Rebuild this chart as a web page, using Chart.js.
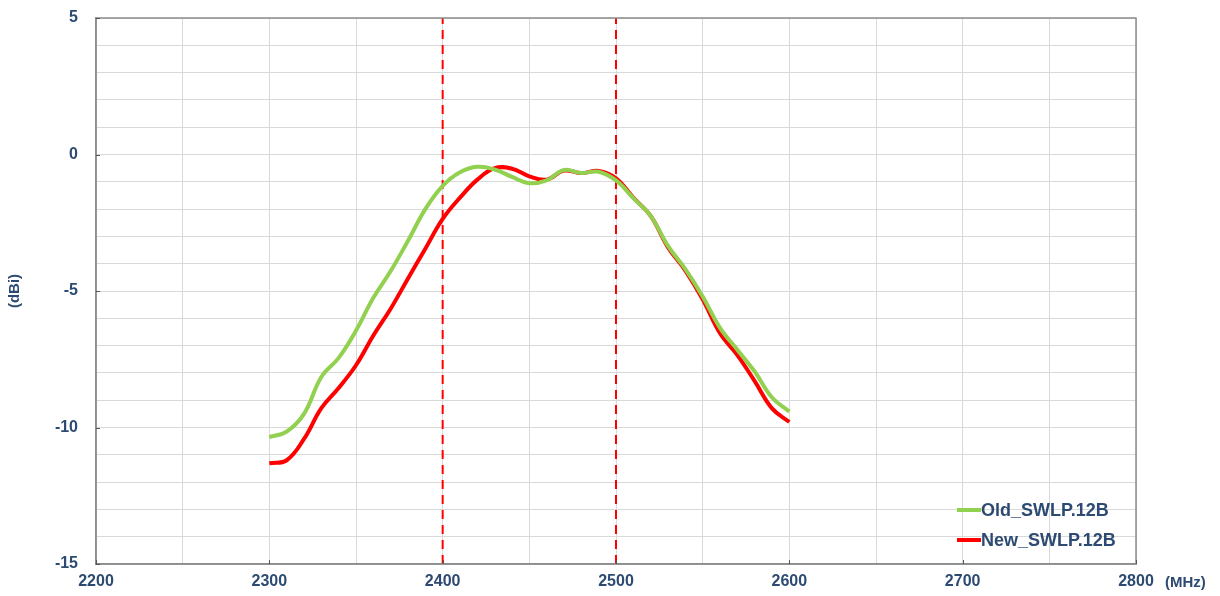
<!DOCTYPE html>
<html>
<head>
<meta charset="utf-8">
<script src="https://cdn.jsdelivr.net/npm/chart.js@4.4.1/dist/chart.umd.min.js"></script>
<style>
  html, body { margin: 0; padding: 0; background: #fff; }
  #wrap { width: 1220px; height: 596px; }
</style>
</head>
<body>
<div id="wrap"><canvas id="chart"></canvas></div>
<script>
// frequency points (MHz)
const freqs = [2300, 2310, 2320, 2330, 2340, 2350, 2360, 2370, 2380, 2390, 2400,
  2410, 2420, 2430, 2440, 2450, 2460, 2470, 2480, 2490, 2500,
  2510, 2520, 2530, 2540, 2550, 2560, 2570, 2580, 2590, 2600];

// gain (dBi)
const oldGain = [-10.35, -10.15, -9.5, -8.15, -7.45, -6.45, -5.25, -4.27, -3.16, -2.0, -1.15,
  -0.65, -0.45, -0.55, -0.82, -1.05, -0.95, -0.57, -0.68, -0.63, -0.95,
  -1.6, -2.25, -3.35, -4.2, -5.2, -6.35, -7.15, -7.95, -8.9, -9.42];
const newGain = [-11.31, -11.2, -10.42, -9.29, -8.55, -7.72, -6.63, -5.65, -4.54, -3.45, -2.36,
  -1.58, -0.92, -0.5, -0.52, -0.8, -0.92, -0.59, -0.68, -0.6, -0.87,
  -1.58, -2.25, -3.4, -4.25, -5.3, -6.55, -7.35, -8.3, -9.3, -9.8];

const seriesNames = ['Old_SWLP.12B', 'New_SWLP.12B'];
const bandEdges = [2400, 2500];
const yRange = [-15, 5];
const xRange = [2200, 2800];

const textColor = '#2d4b72';
const fontFamily = '"Liberation Sans", Arial, sans-serif';

function toPoints(ys) {
  return freqs.map((f, i) => ({ x: f, y: ys[i] }));
}

const datasets = [
  {
    label: seriesNames[0],
    data: toPoints(oldGain),
    borderColor: '#92d050',
    borderWidth: 4,
    pointRadius: 0,
    tension: 0.4,
    fill: false
  },
  {
    label: seriesNames[1],
    data: toPoints(newGain),
    borderColor: '#ff0000',
    borderWidth: 4,
    pointRadius: 0,
    tension: 0.4,
    fill: false
  }
];

bandEdges.forEach(f => {
  datasets.push({
    label: 'edge',
    data: [{ x: f, y: yRange[0] }, { x: f, y: yRange[1] }],
    borderColor: '#ff0000',
    borderWidth: 2,
    borderDash: [9, 6],
    pointRadius: 0,
    fill: false,
    isMarker: true
  });
});

const framePlugin = {
  id: 'frame',
  afterDraw(chart) {
    const { ctx, chartArea: a } = chart;
    ctx.save();
    ctx.strokeStyle = '#8c8c8c';
    ctx.lineWidth = 1.5;
    ctx.strokeRect(a.left, a.top, a.right - a.left, a.bottom - a.top);

    // small inward tick marks at the labelled values
    ctx.strokeStyle = '#555';
    ctx.lineWidth = 1;
    const xs = chart.scales.x, ys = chart.scales.y;
    for (let v = xRange[0]; v <= xRange[1]; v += 100) {
      const px = Math.round(xs.getPixelForValue(v)) + 0.5;
      ctx.beginPath(); ctx.moveTo(px, a.bottom); ctx.lineTo(px, a.bottom - 4); ctx.stroke();
    }
    for (let v = yRange[0]; v <= yRange[1]; v += 5) {
      const py = Math.round(ys.getPixelForValue(v)) + 0.5;
      ctx.beginPath(); ctx.moveTo(a.left, py); ctx.lineTo(a.left + 4, py); ctx.stroke();
    }

    // x axis unit
    ctx.fillStyle = textColor;
    ctx.font = 'bold 15px ' + fontFamily;
    ctx.textAlign = 'left';
    ctx.textBaseline = 'middle';
    ctx.fillText('(MHz)', 1165, 583);

    // legend in bottom right corner
    ctx.font = 'bold 18px ' + fontFamily;
    const items = chart.data.datasets.filter(d => !d.isMarker);
    items.forEach((d, i) => {
      const y = 510 + i * 30;
      ctx.strokeStyle = d.borderColor;
      ctx.lineWidth = 4;
      ctx.beginPath();
      ctx.moveTo(957, y);
      ctx.lineTo(981, y);
      ctx.stroke();
      ctx.fillStyle = textColor;
      ctx.fillText(d.label, 981, y + 1);
    });
    ctx.restore();
  }
};

new Chart(document.getElementById('chart'), {
  type: 'line',
  data: { datasets: datasets },
  options: {
    responsive: true,
    maintainAspectRatio: false,
    animation: false,
    layout: { padding: { left: 6, right: 84, top: 18, bottom: 0 } },
    plugins: {
      legend: { display: false },
      tooltip: { enabled: false }
    },
    scales: {
      x: {
        type: 'linear',
        min: xRange[0],
        max: xRange[1],
        afterFit: s => { s.height = 32; s.paddingLeft = 0; s.paddingRight = 0; },
        ticks: {
          stepSize: 50,
          padding: 8,
          color: textColor,
          font: { family: fontFamily, size: 16, weight: 'bold' },
          maxRotation: 0,
          autoSkip: false,
          callback: v => (v % 100 === 0 ? String(v) : '')
        },
        grid: { color: '#d9d9d9', lineWidth: 1, drawTicks: false },
        border: { color: '#8c8c8c', width: 1.5 }
      },
      y: {
        min: yRange[0],
        max: yRange[1],
        afterFit: s => { s.width = 90; s.paddingTop = 0; s.paddingBottom = 0; },
        title: {
          display: true,
          text: '(dBi)',
          color: textColor,
          font: { family: fontFamily, size: 15, weight: 'bold' },
          padding: 0
        },
        ticks: {
          stepSize: 1,
          padding: 18,
          color: textColor,
          font: { family: fontFamily, size: 16, weight: 'bold' },
          autoSkip: false,
          callback: v => (v % 5 === 0 ? String(v) : '')
        },
        grid: { color: '#d9d9d9', lineWidth: 1, drawTicks: false },
        border: { color: '#8c8c8c', width: 1.5 }
      }
    }
  },
  plugins: [framePlugin]
});
</script>
</body>
</html>
